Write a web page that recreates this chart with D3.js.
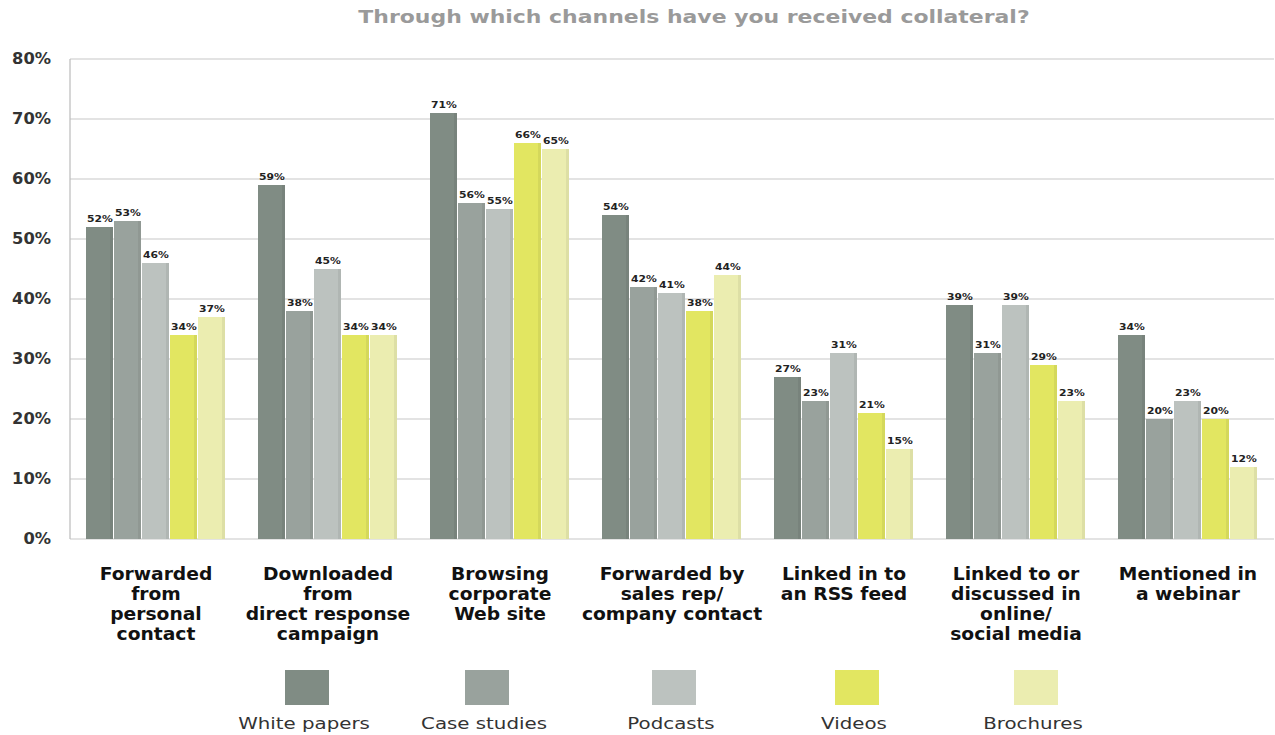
<!DOCTYPE html>
<html><head><meta charset="utf-8">
<script src="https://cdn.jsdelivr.net/npm/d3@7"></script>
<style>body{margin:0;background:#fff;}svg{display:block;}</style>
</head><body>
<svg id="chart" width="1275" height="735"></svg>
<script>
const categories = [
  ["Forwarded","from","personal","contact"],
  ["Downloaded","from","direct response","campaign"],
  ["Browsing","corporate","Web site"],
  ["Forwarded by","sales rep/","company contact"],
  ["Linked in to","an RSS feed"],
  ["Linked to or","discussed in","online/","social media"],
  ["Mentioned in","a webinar"]
];
const seriesNames = ["White papers","Case studies","Podcasts","Videos","Brochures"];
const whitePapers = [52,59,71,54,27,39,34];
const caseStudies = [53,38,56,42,23,31,20];
const podcasts    = [46,45,55,41,31,39,23];
const videos      = [34,34,66,38,21,29,20];
const brochures   = [37,34,65,44,15,23,12];
const yTicks = [0,10,20,30,40,50,60,70,80];
const colors = ["#808c84","#99a29d","#bcc2bf","#e2e661","#ebedb0"];
const title = "Through which channels have you received collateral?";

const series = [whitePapers, caseStudies, podcasts, videos, brochures];
const svg = d3.select("#chart");
const font = "'DejaVu Sans', Verdana, sans-serif";
const mLeft = 70, mRight = 1274, mTop = 59, mBottom = 539;

// horizontal stretch helper (reference text is wide, Verdana-like)
function stretch(sel, sx) {
  sel.each(function(){
    const t = d3.select(this);
    const ax = +t.attr("x") || 0;
    t.attr("transform", `translate(${ax},0) scale(${sx},1) translate(${-ax},0)`);
  });
}

const x = d3.scaleBand().domain(d3.range(categories.length)).range([mLeft, mRight]).paddingInner(0.186).paddingOuter(0.093);
const xs = d3.scaleBand().domain(d3.range(seriesNames.length)).range([0, x.bandwidth()]).padding(0);
const y = d3.scaleLinear().domain([0, 80]).range([mBottom, mTop]);

// title
svg.append("text").attr("x", 694).attr("y", 23).attr("text-anchor","middle")
  .attr("font-family", font).attr("font-weight","bold").attr("font-size", 18).attr("fill","#9a9a9a").text(title)
  .call(stretch, 1.22);

// gridlines
svg.append("g").selectAll("line").data(yTicks).join("line")
  .attr("x1", mLeft).attr("x2", mRight).attr("y1", d=>y(d)).attr("y2", d=>y(d))
  .attr("stroke", "#c8c8c8").attr("stroke-width", 1.2);
svg.append("line").attr("x1", mLeft).attr("x2", mLeft).attr("y1", mTop).attr("y2", mBottom).attr("stroke","#bbb").attr("stroke-width",1.2);

// y axis labels
const yAxis = d3.axisLeft(y).tickValues(yTicks).tickFormat(d=>d+"%").tickSize(0).tickPadding(19);
const ya = svg.append("g").attr("transform", `translate(${mLeft},0)`).call(yAxis);
ya.select(".domain").remove();
ya.selectAll("text").attr("font-family", font).attr("font-weight","bold").attr("font-size", 15.5).attr("fill","#333")
  .call(stretch, 1.05);

// bars
const groups = svg.append("g").selectAll("g").data(categories).join("g")
  .attr("transform", (d,i)=>`translate(${x(i)},0)`);
groups.each(function(c, ci){
  const g = d3.select(this);
  series.forEach((s, si) => {
    const v = s[ci];
    g.append("rect").attr("x", xs(si)).attr("y", y(v)).attr("width", xs.bandwidth()-1).attr("height", y(0)-y(v))
      .attr("fill", colors[si]);
    g.append("rect").attr("x", xs(si)+xs.bandwidth()-4).attr("y", y(v)).attr("width", 3).attr("height", y(0)-y(v))
      .attr("fill", "#000").attr("opacity", 0.06);
    g.append("text").attr("x", xs(si)+xs.bandwidth()/2).attr("y", y(v)-5).attr("text-anchor","middle")
      .attr("font-family", font).attr("font-weight","bold").attr("font-size", 9).attr("fill","#222").text(v+"%")
      .call(stretch, 1.2);
  });
});

// category labels
groups.append("text").attr("x", x.bandwidth()/2).attr("font-family", font).attr("font-weight","bold").attr("font-size", 17).attr("fill","#111")
  .attr("text-anchor","middle")
  .each(function(lines){
    const t = d3.select(this);
    lines.forEach((l, li)=>{
      t.append("tspan").attr("x", x.bandwidth()/2).attr("y", 580 + li*20).text(l);
    });
  })
  .call(stretch, 1.1);

// legend
const legX = [307, 487, 674, 857, 1036];
const lg = svg.append("g").selectAll("g").data(seriesNames).join("g")
  .attr("transform",(d,i)=>`translate(${legX[i]},0)`);
lg.append("rect").attr("x",-22).attr("y",670).attr("width",44).attr("height",35).attr("fill",(d,i)=>colors[i]);
lg.append("text").attr("x",-3).attr("y",729).attr("text-anchor","middle").attr("font-family", font).attr("font-size",16.5).attr("fill","#333").text(d=>d)
  .call(stretch, 1.2);
</script>
</body></html>
